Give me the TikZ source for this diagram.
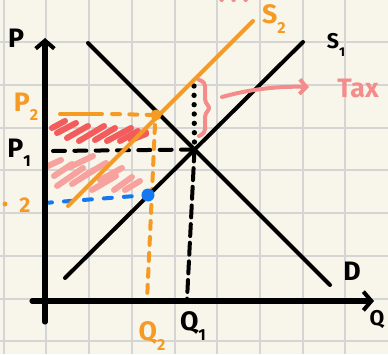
\documentclass[tikz,border=0pt]{standalone}
\usepackage{fontspec}
\setmainfont{Fira Sans}
\usetikzlibrary{arrows.meta}
\definecolor{paper}{HTML}{F8F6EA}
\definecolor{gridc}{HTML}{D5D5D5}
\definecolor{orng}{HTML}{F59A23}
\definecolor{redh}{HTML}{F25C5C}
\definecolor{pinkh}{HTML}{F8A2A0}
\definecolor{taxc}{HTML}{F58C8C}
\definecolor{blu}{HTML}{1478F0}
\newcommand{\sublab}[2]{#1\raisebox{-0.35em}{\scalebox{0.6}{#2}}}
\tikzset{
  gridline/.style={gridc, line width=1.5pt},
  curve/.style={black, line width=3pt, line cap=round},
  axis/.style={black, line width=3.8pt, line cap=round, -{Straight Barb[length=6pt,width=14pt,line width=3pt]}},
  redstroke/.style={redh, line width=4.5pt, line cap=round},
  pinkstroke/.style={pinkh, line width=4.5pt, line cap=round},
  lab/.style={font=\bfseries\fontsize{20}{20}\selectfont, inner sep=0pt},
  smalllab/.style={font=\bfseries\fontsize{16}{16}\selectfont, inner sep=0pt},
}
\begin{document}
\begin{tikzpicture}[x=0.75pt,y=-0.75pt]
\useasboundingbox (0,0) rectangle (388,354);
\fill[paper] (0,0) rectangle (388,354);
% grid
\foreach \gx in {3.7,46.4,89,131.8,174.5,217.2,260,302.6,345.3}
  \draw[gridline] (\gx,0) -- (\gx,354);
\foreach \gy in {42.3,85,127.7,170.4,213.1,255.8,298.5,341.2}
  \draw[gridline] (0,\gy) -- (388,\gy);
% hatching red
\foreach \ax/\ay/\bx/\by in {52/128/65/121, 57/133/76/123, 67/138/88/126, 79/141/104/126, 95/140/115/128, 107/141/131/128, 120/141/138/131, 131/140/146/134, 136/137/146/132}
  \draw[redstroke] (\ax,\ay) -- (\bx,\by);
% hatching pink
\foreach \ax/\ay/\bx/\by in {48/166/61/160, 54/176/72/164, 57/186/83/168, 70/167/93/156, 72/184/94/170, 84/176/106/163, 92/190/116/176, 100/180/122/168, 114/190/132/177, 125/190/140/181}
  \draw[pinkstroke] (\ax,\ay) -- (\bx,\by);
% named points
\coordinate (dtop) at (88,43);
\coordinate (dbot) at (330,285);
\coordinate (s1bot) at (65,278);
\coordinate (s1top) at (303,42);
\coordinate (s2bot) at (68,206);
\coordinate (s2top) at (253,21);
\coordinate (eq) at (194.5,149.5);
\coordinate (eq2) at (156,115);
\coordinate (bdot) at (148,195);
\coordinate (yo) at (45,322);
\coordinate (yt) at (45,38);
\coordinate (xo) at (32,301);
\coordinate (xt) at (374,301);
% dashed guide lines
\draw[black, line width=3pt, line cap=round, dash pattern=on 9pt off 7pt] (53,151) -- (eq);
\draw[orng, line width=3pt, line cap=round] (60,114) -- (102,114);
\draw[orng, line width=3pt, line cap=round, dash pattern=on 6pt off 7pt] (112,114) -- (eq2);
\draw[orng, line width=3pt, line cap=round, dash pattern=on 6pt off 6pt] (155,125) -- (147,301);
\draw[blu, line width=3pt, line cap=round, dash pattern=on 6pt off 9pt] (44,203) -- (bdot);
\draw[black, line width=4pt, line cap=round, dash pattern=on 0pt off 7pt] (194,86) -- (eq);
\draw[black, line width=3pt, line cap=round, dash pattern=on 9pt off 5pt] (eq) -- (187,300);
% curves
\draw[curve] (dtop) -- (dbot);
\draw[curve] (s1bot) -- (s1top);
\draw[orng, line width=3pt, line cap=round] (s2bot) -- (s2top);
% axes
\draw[axis] (yo) -- (yt);
\draw[axis] (xo) -- (xt);
% dots
\fill[orng] (eq2) circle (5.5);
\fill[blu] (bdot) circle (6.5);
% tax brace and arrow
\draw[taxc, line width=3pt, line cap=round, line join=round, rounded corners=3pt]
  (199,80) -- (205,82) -- (205,103) -- (211,108) -- (205,113) -- (205,133) -- (199,136);
\coordinate (tarrs) at (222,97);
\coordinate (tarre) at (309,87);
\draw[taxc, line width=3pt, line cap=round, -{Straight Barb[length=5pt,width=11pt,line width=3pt]}]
  (tarrs) .. controls (250,89) and (280,86) .. (tarre);
% top edge pink marks
\draw[taxc, line width=2.5pt, line cap=round, dash pattern=on 1pt off 8pt] (221,0.5) -- (252,0.5);
% labels
\node[lab] (lP) at (16,38) {P};
\node[lab, orng] (lP2) at (26,107) {\sublab{P}{2}};
\node[lab] (lP1) at (19,153) {\sublab{P}{1}};
\fill[orng] (5,204) circle (2.5);
\node[smalllab, orng] (l2) at (25,205) {2};
\node[lab, orng] (lS2) at (274,19) {\sublab{S}{2}};
\node[smalllab] (lS1) at (336,45) {\sublab{S}{1}};
\node[lab, taxc] (lTax) at (358,88) {Tax};
\node[lab] (lD) at (352,271) {D};
\node[smalllab] (lQ) at (377,319) {Q};
\node[lab] (lQ1) at (193,326) {\sublab{Q}{1}};
\node[lab, orng] (lQ2) at (152,336) {\sublab{Q}{2}};
\end{tikzpicture}
\end{document}
